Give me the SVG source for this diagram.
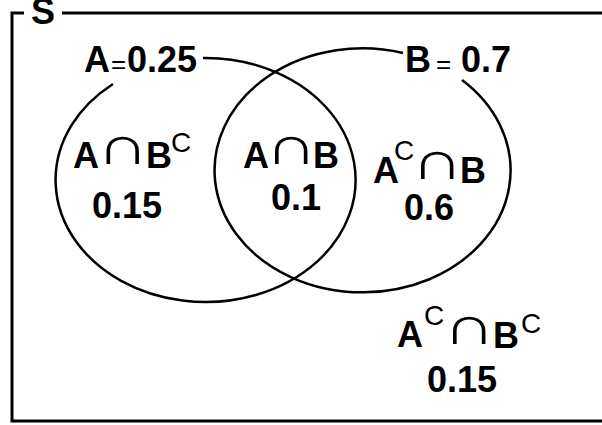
<svg xmlns="http://www.w3.org/2000/svg" width="602" height="425" viewBox="0 0 602 425">
<style>
.t{font-family:"Liberation Sans",Arial,sans-serif;font-weight:bold;font-size:36px;fill:#000}
.sup{font-family:"Liberation Sans",Arial,sans-serif;font-weight:normal;font-size:28px;fill:#000}
.cap{font-family:"Liberation Sans",Arial,sans-serif;font-weight:normal;font-size:72px;fill:#000}
.eq{font-family:"Liberation Sans",Arial,sans-serif;font-weight:normal;font-size:26px;fill:#000}
.ln{fill:none;stroke:#000;stroke-width:2.5}
.fr{fill:none;stroke:#000;stroke-width:3}
</style>
<rect width="602" height="425" fill="#fff"/>
<g id="frame">
<path class="fr" d="M24 13 H12 V421 H604"/>
<path class="fr" d="M62 13 H604"/>
<text class="t" x="31" y="24">S</text>
</g>
<g id="connectors">
<path id="circleA" class="ln" d="M203 58 A150 122 0 1 1 113 84"/>
<path id="circleB" class="ln" d="M462 80 A148 122 0 1 1 403 53"/>
</g>
<g id="labelA">
<text class="t" x="84" y="72">A</text>
<text class="eq" x="111" y="73">=</text>
<text class="t" x="127" y="72">0.25</text>
</g>
<g id="labelB">
<text class="t" x="405" y="72">B</text>
<text class="eq" x="436" y="73">=</text>
<text class="t" x="461" y="72">0.7</text>
</g>
<g id="AnotB">
<text class="t" x="73" y="168">A</text>
<text class="cap" transform="translate(122.5 164) scale(1 0.75)" text-anchor="middle">∩</text>
<text class="t" x="146" y="168">B</text>
<text class="sup" x="171" y="152">C</text>
<text class="t" x="92" y="218">0.15</text>
</g>
<g id="AandB">
<text class="t" x="243" y="168">A</text>
<text class="cap" transform="translate(291 164) scale(1 0.75)" text-anchor="middle">∩</text>
<text class="t" x="313" y="168">B</text>
<text class="t" x="271" y="210">0.1</text>
</g>
<g id="BnotA">
<text class="t" x="373" y="183">A</text>
<text class="sup" x="394" y="160">C</text>
<text class="cap" transform="translate(437 179) scale(1 0.75)" text-anchor="middle">∩</text>
<text class="t" x="460" y="183">B</text>
<text class="t" x="404" y="220">0.6</text>
</g>
<g id="neither">
<text class="t" x="397" y="347">A</text>
<text class="sup" x="424" y="325">C</text>
<text class="cap" transform="translate(469 344) scale(1 0.75)" text-anchor="middle">∩</text>
<text class="t" x="493" y="348">B</text>
<text class="sup" x="521" y="333">C</text>
<text class="t" x="427" y="392">0.15</text>
</g>
</svg>
